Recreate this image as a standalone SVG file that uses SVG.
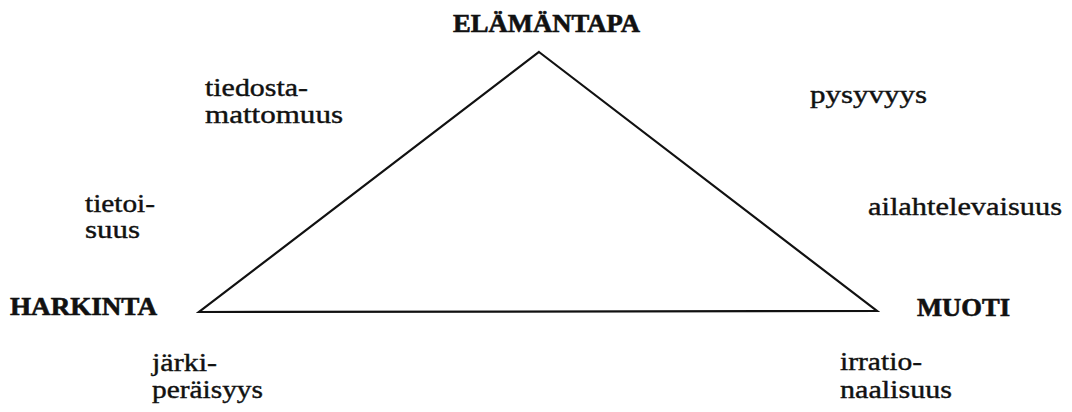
<svg xmlns="http://www.w3.org/2000/svg" width="1072" height="412" viewBox="0 0 1072 412">
<style>
.t{font-family:"Liberation Serif",serif;font-size:25px;fill:#111;stroke:#111;stroke-width:0.4}
.b{font-family:"Liberation Serif",serif;font-size:25px;font-weight:bold;fill:#111;stroke:#111;stroke-width:0.6}
.c{fill:none;stroke:#111;stroke-width:2.2;stroke-linejoin:miter}
</style>
<rect width="1072" height="412" fill="#fff"/>
<g id="connectors">
<polygon class="c" points="539,52 877,311 199,312"/>
</g>
<g id="elamantapa"><text class="b" x="453" y="32" textLength="187" lengthAdjust="spacingAndGlyphs">ELÄMÄNTAPA</text></g>
<g id="harkinta"><text class="b" x="10" y="315" textLength="147" lengthAdjust="spacingAndGlyphs">HARKINTA</text></g>
<g id="muoti"><text class="b" x="917" y="316" textLength="93" lengthAdjust="spacingAndGlyphs">MUOTI</text></g>
<g id="tiedostamattomuus">
<text class="t" x="205" y="96" textLength="103" lengthAdjust="spacingAndGlyphs">tiedosta-</text>
<text class="t" x="205" y="123" textLength="138" lengthAdjust="spacingAndGlyphs">mattomuus</text>
</g>
<g id="pysyvyys"><text class="t" x="810" y="103" textLength="117" lengthAdjust="spacingAndGlyphs">pysyvyys</text></g>
<g id="tietoisuus">
<text class="t" x="85" y="212" textLength="70" lengthAdjust="spacingAndGlyphs">tietoi-</text>
<text class="t" x="85" y="238" textLength="55" lengthAdjust="spacingAndGlyphs">suus</text>
</g>
<g id="ailahtelevaisuus"><text class="t" x="868" y="215" textLength="194" lengthAdjust="spacingAndGlyphs">ailahtelevaisuus</text></g>
<g id="jarkiperaisyys">
<text class="t" x="152" y="371" textLength="65" lengthAdjust="spacingAndGlyphs">järki-</text>
<text class="t" x="152" y="398" textLength="111" lengthAdjust="spacingAndGlyphs">peräisyys</text>
</g>
<g id="irrationaalisuus">
<text class="t" x="840" y="370" textLength="82" lengthAdjust="spacingAndGlyphs">irratio-</text>
<text class="t" x="840" y="398" textLength="112" lengthAdjust="spacingAndGlyphs">naalisuus</text>
</g>
</svg>
